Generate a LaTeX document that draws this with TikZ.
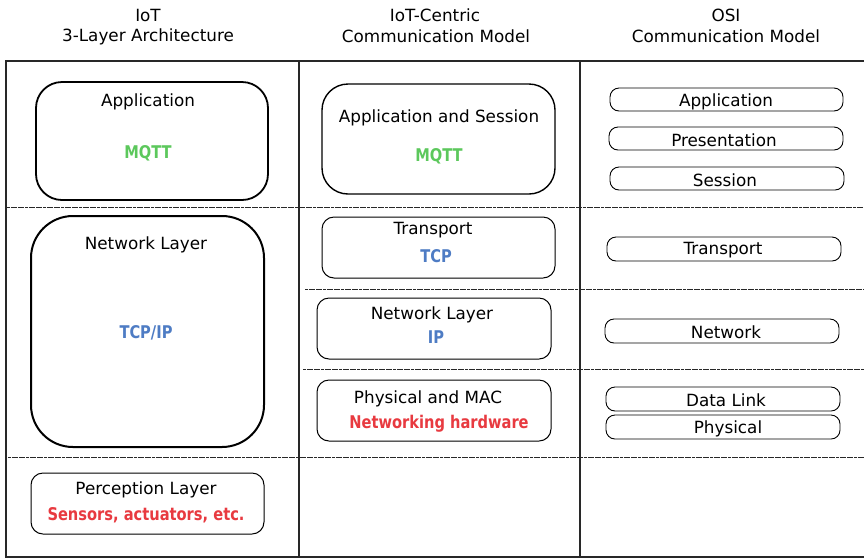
\documentclass[tikz,border=0pt]{standalone}
\usepackage{fontspec}
\setmainfont{DejaVu Sans}
\newfontfamily\cbold[FakeStretch=0.93]{DejaVu Sans Condensed Bold}
\definecolor{mgreen}{RGB}{92,200,92}
\definecolor{mblue}{RGB}{78,124,196}
\definecolor{mred}{RGB}{232,58,64}
\definecolor{frame}{RGB}{40,40,40}
\tikzset{
  lbl/.style={font=\fontsize{16.8}{20}\selectfont, inner sep=0pt, anchor=center, yshift=-1.5pt},
  clbl/.style={font=\fontsize{17.5}{20}\selectfont\cbold, inner sep=0pt, anchor=center, yshift=-1.5pt},
  layerbox/.style={draw=black, fill=white, rounded corners=12pt, line width=1pt, inner sep=0pt},
  osibox/.style={draw=black, fill=white, rounded corners=9pt, line width=0.9pt, inner sep=0pt},
  sep/.style={draw=frame, line width=0.9pt, dash pattern=on 3pt off 0.6pt},
  frameline/.style={draw=frame, line width=1.4pt},
}
\begin{document}
\begin{tikzpicture}[x=1pt,y=-1pt]
\useasboundingbox (0,0) rectangle (864,558);
% headers
\node[lbl] (h1a) at (148,14) {IoT};
\node[lbl] (h1b) at (148,35) {3-Layer Architecture};
\node[lbl] (h2a) at (435,14) {IoT-Centric};
\node[lbl] (h2b) at (436,35) {Communication Model};
\node[lbl] (h3a) at (726,14) {OSI};
\node[lbl] (h3b) at (726,35) {Communication Model};
% frame
\coordinate (tl) at (6,61);
\coordinate (tr) at (866,61);
\coordinate (bl) at (6,557);
\coordinate (br) at (866,557);
\draw[frameline] (tr) -- (tl) -- (bl) -- (br);
\coordinate (c1t) at (299,61); \coordinate (c1b) at (299,557);
\coordinate (c2t) at (580,61); \coordinate (c2b) at (580,557);
\draw[frameline] (c1t) -- (c1b);
\draw[frameline] (c2t) -- (c2b);
% separators
\coordinate (s1l) at (7,207); \coordinate (s1r) at (866,207);
\coordinate (s2l) at (305,289); \coordinate (s2r) at (866,289);
\coordinate (s3l) at (303,369); \coordinate (s3r) at (866,369);
\coordinate (s4l) at (8,457); \coordinate (s4r) at (866,457);
\draw[sep] (s1l) -- (s1r);
\draw[sep] (s2l) -- (s2r);
\draw[sep] (s3l) -- (s3r);
\draw[sep] (s4l) -- (s4r);
% left column
\node[layerbox, line width=1.8pt, rounded corners=26pt, minimum width=232pt, minimum height=118pt] (lapp) at (152,141) {};
\node[lbl] (lappt) at (148,100) {Application};
\node[clbl, text=mgreen] (lappc) at (148,152) {MQTT};
\node[layerbox, line width=2pt, rounded corners=42pt, minimum width=233pt, minimum height=231pt] (lnet) at (147.5,331.5) {};
\node[lbl] (lnett) at (146,243) {Network Layer};
\node[clbl, text=mblue] (lnetc) at (146,331) {TCP/IP};
\node[layerbox, minimum width=233pt, minimum height=61pt] (lper) at (147.5,503.5) {};
\node[lbl] (lpert) at (146,488) {Perception Layer};
\node[clbl, text=mred] (lperc) at (146,514) {Sensors, actuators, etc.};
% middle column
\node[layerbox, line width=1.4pt, rounded corners=26pt, minimum width=233pt, minimum height=110pt] (mapp) at (438.5,139) {};
\node[lbl] (mappt) at (439,116) {Application and Session};
\node[clbl, text=mgreen] (mappc) at (439,155) {MQTT};
\node[layerbox, minimum width=233pt, minimum height=61pt] (mtra) at (438.5,247.5) {};
\node[lbl] (mtrat) at (433,229) {Transport};
\node[clbl, text=mblue] (mtrac) at (436,255) {TCP};
\node[layerbox, minimum width=234pt, minimum height=61pt] (mnet) at (434,328.5) {};
\node[lbl] (mnett) at (432,313) {Network Layer};
\node[clbl, text=mblue] (mnetc) at (436,336) {IP};
\node[layerbox, minimum width=234pt, minimum height=61pt] (mphy) at (434,410.5) {};
\node[lbl] (mphyt) at (428,397) {Physical and MAC};
\node[clbl, text=mred] (mphyc) at (439,422) {Networking hardware};
% right column
\node[osibox, minimum width=233pt, minimum height=23pt] (oapp) at (726.5,99.5) {};
\node[lbl] (oappt) at (726,100) {Application};
\node[osibox, minimum width=234pt, minimum height=23pt] (opre) at (726,138.5) {};
\node[lbl] (opret) at (724,139) {Presentation};
\node[osibox, minimum width=234pt, minimum height=23pt] (oses) at (727,178.5) {};
\node[lbl] (osest) at (725,179) {Session};
\node[osibox, minimum width=234pt, minimum height=24pt] (otra) at (724,249) {};
\node[lbl] (otrat) at (723,249) {Transport};
\node[osibox, minimum width=234pt, minimum height=24pt] (onet) at (722,331) {};
\node[lbl] (onett) at (726,331) {Network};
\node[osibox, minimum width=234pt, minimum height=24pt] (odat) at (723,399) {};
\node[lbl] (odatt) at (726,399) {Data Link};
\node[osibox, minimum width=234pt, minimum height=24pt] (ophy) at (723,427) {};
\node[lbl] (ophyt) at (728,427) {Physical};
\end{tikzpicture}
\end{document}
